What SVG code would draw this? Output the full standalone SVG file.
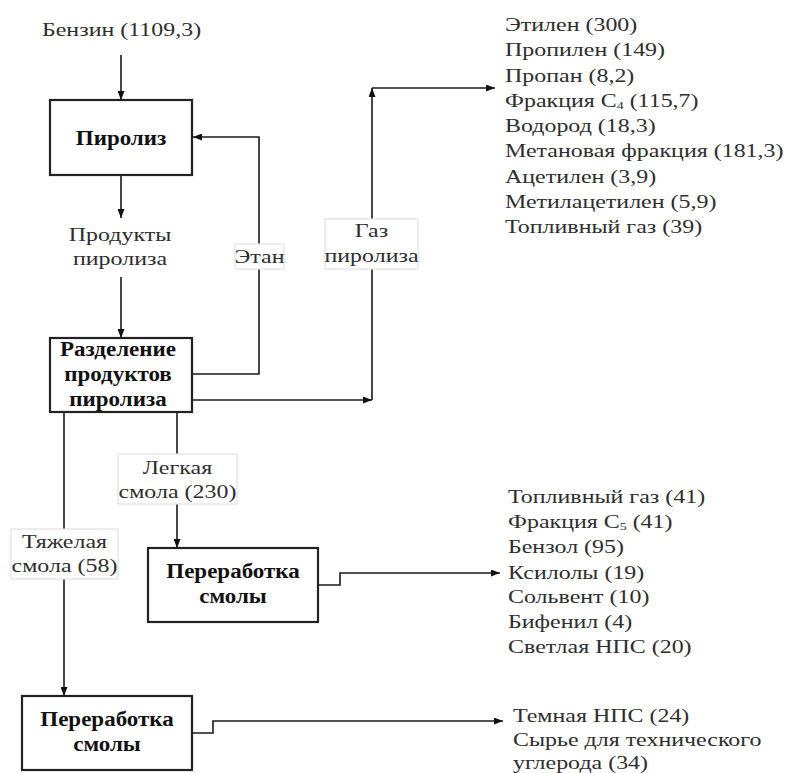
<svg xmlns="http://www.w3.org/2000/svg" width="787" height="773" viewBox="0 0 787 773">
<style>
.t{font-family:"Liberation Serif","Times New Roman",serif;font-size:19px;fill:#2e2e2e}
.b{font-family:"Liberation Serif","Times New Roman",serif;font-size:20px;font-weight:bold;fill:#111}
.c{text-anchor:middle}
.box{fill:#fff;stroke:#222;stroke-width:2.2}
.lbl{fill:#fff;stroke:#e2e2e2;stroke-width:1.2}
.ln{fill:none;stroke:#1a1a1a;stroke-width:1.6}
</style>
<defs>
<marker id="arr" viewBox="0 0 9 7" refX="9" refY="3.5" markerWidth="9" markerHeight="7" markerUnits="userSpaceOnUse" orient="auto">
<path d="M0,0 L9,3.5 L0,7 z" fill="#111"/>
</marker>
</defs>
<rect width="787" height="773" fill="#fff"/>

<g id="connectors">
<path class="ln" d="M121,55 V100" marker-end="url(#arr)"/>
<path class="ln" d="M121,175 V218" marker-end="url(#arr)"/>
<path class="ln" d="M121,277 V338" marker-end="url(#arr)"/>
<path class="ln" d="M192,374 H259 V137 H193" marker-end="url(#arr)"/>
<path class="ln" d="M192,400 H372" marker-end="url(#arr)"/>
<path class="ln" d="M372,400 V88" marker-end="url(#arr)"/>
<path class="ln" d="M372,88 H495" marker-end="url(#arr)"/>
<path class="ln" d="M64,412 V696" marker-end="url(#arr)"/>
<path class="ln" d="M177,412 V548" marker-end="url(#arr)"/>
<path class="ln" d="M318,585 H340 V573 H500" marker-end="url(#arr)"/>
<path class="ln" d="M192,733 H213 V721 H503" marker-end="url(#arr)"/>
</g>

<g id="edge-labels">
<g id="lbl-etan">
<rect class="lbl" x="235" y="244" width="49" height="25"/>
<text class="t c" transform="translate(259.5,263) scale(1.26,1)">Этан</text>
</g>
<g id="lbl-gas">
<rect class="lbl" x="325" y="219" width="93" height="50"/>
<text class="t c" transform="translate(371.5,237) scale(1.26,1)">Газ</text>
<text class="t c" transform="translate(371.5,262) scale(1.26,1)">пиролиза</text>
</g>
<g id="lbl-light">
<rect class="lbl" x="118" y="454" width="119" height="50"/>
<text class="t c" transform="translate(177.5,474) scale(1.26,1)">Легкая</text>
<text class="t c" transform="translate(177.5,498) scale(1.26,1)">смола (230)</text>
</g>
<g id="lbl-heavy">
<rect class="lbl" x="11" y="529" width="107" height="50"/>
<text class="t c" transform="translate(64.5,548) scale(1.26,1)">Тяжелая</text>
<text class="t c" transform="translate(64.5,572) scale(1.26,1)">смола (58)</text>
</g>
</g>

<g id="src-benzin">
<text class="t" transform="translate(42,36) scale(1.26,1)">Бензин (1109,3)</text>
</g>

<g id="node-piroliz">
<rect class="box" x="50" y="100" width="142" height="75"/>
<text class="b c" transform="translate(121,145) scale(1.15,1)">Пиролиз</text>
</g>

<g id="mid-products">
<text class="t c" transform="translate(120,241) scale(1.26,1)">Продукты</text>
<text class="t c" transform="translate(120,265) scale(1.26,1)">пиролиза</text>
</g>

<g id="node-separation">
<rect class="box" x="50" y="338" width="142" height="74"/>
<text class="b c" transform="translate(118,356) scale(1.15,1)">Разделение</text>
<text class="b c" transform="translate(118,381) scale(1.15,1)">продуктов</text>
<text class="b c" transform="translate(118,406) scale(1.15,1)">пиролиза</text>
</g>

<g id="node-tar-light">
<rect class="box" x="148" y="548" width="170" height="74"/>
<text class="b c" transform="translate(233,578) scale(1.15,1)">Переработка</text>
<text class="b c" transform="translate(233,603) scale(1.15,1)">смолы</text>
</g>

<g id="node-tar-heavy">
<rect class="box" x="22" y="696" width="170" height="74"/>
<text class="b c" transform="translate(107,726) scale(1.15,1)">Переработка</text>
<text class="b c" transform="translate(107,751) scale(1.15,1)">смолы</text>
</g>

<g id="list-gas">
<text class="t" transform="translate(505,31) scale(1.26,1)">Этилен (300)</text>
<text class="t" transform="translate(505,56) scale(1.26,1)">Пропилен (149)</text>
<text class="t" transform="translate(505,82) scale(1.26,1)">Пропан (8,2)</text>
<text class="t" transform="translate(505,107) scale(1.26,1)">Фракция С<tspan font-size="11" dy="2">4</tspan><tspan dy="-2"> (115,7)</tspan></text>
<text class="t" transform="translate(505,132) scale(1.26,1)">Водород (18,3)</text>
<text class="t" transform="translate(505,157) scale(1.26,1)">Метановая фракция (181,3)</text>
<text class="t" transform="translate(505,183) scale(1.26,1)">Ацетилен (3,9)</text>
<text class="t" transform="translate(505,208) scale(1.26,1)">Метилацетилен (5,9)</text>
<text class="t" transform="translate(505,233) scale(1.26,1)">Топливный газ (39)</text>
</g>

<g id="list-light">
<text class="t" transform="translate(508,503) scale(1.26,1)">Топливный газ (41)</text>
<text class="t" transform="translate(508,528) scale(1.26,1)">Фракция С<tspan font-size="11" dy="2">5</tspan><tspan dy="-2"> (41)</tspan></text>
<text class="t" transform="translate(508,553) scale(1.26,1)">Бензол (95)</text>
<text class="t" transform="translate(508,579) scale(1.26,1)">Ксилолы (19)</text>
<text class="t" transform="translate(508,603) scale(1.26,1)">Сольвент (10)</text>
<text class="t" transform="translate(508,628) scale(1.26,1)">Бифенил (4)</text>
<text class="t" transform="translate(508,653) scale(1.26,1)">Светлая НПС (20)</text>
</g>

<g id="list-heavy">
<text class="t" transform="translate(513,722) scale(1.26,1)">Темная НПС (24)</text>
<text class="t" transform="translate(513,746) scale(1.26,1)">Сырье для технического</text>
<text class="t" transform="translate(513,769) scale(1.26,1)">углерода (34)</text>
</g>
</svg>
